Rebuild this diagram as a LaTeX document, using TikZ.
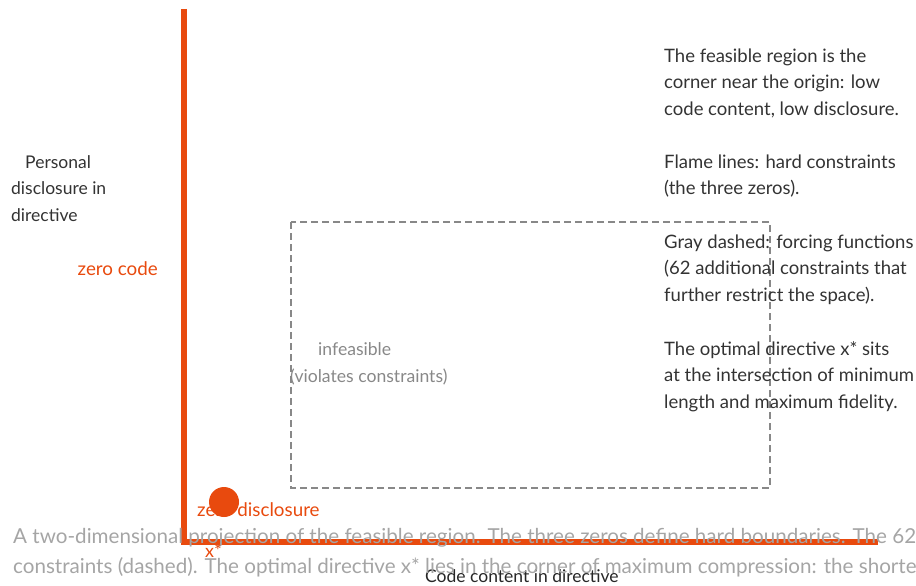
\documentclass[tikz,border=0pt]{standalone}
\usepackage{fontspec}
\setmainfont{Lato}
\usepackage{tikz}
\usetikzlibrary{positioning}
\usepackage{xcolor}
\definecolor{flame}{RGB}{232,74,14}
\definecolor{ink}{RGB}{51,51,51}
\definecolor{dashgray}{RGB}{136,136,136}
\definecolor{capgray}{RGB}{165,165,165}
\tikzset{
  hard/.style={draw=flame, line width=6pt},
  forcing/.style={draw=dashgray, line width=2pt, dash pattern=on 7pt off 4pt},
  note/.style={anchor=base west, inner sep=0pt, align=left, text=ink,
    font=\fontsize{18.5}{26.5}\selectfont},
  flamelbl/.style={inner sep=0pt, text=flame, font=\fontsize{18.8}{20}\selectfont},
  graylbl/.style={anchor=base west, inner sep=0pt, text=dashgray, font=\fontsize{17.6}{20}\selectfont},
  caption/.style={anchor=base west, inner sep=0pt, align=left, text=capgray,
    font=\fontsize{20.6}{30}\selectfont},
}

\begin{document}
\begin{tikzpicture}[x=1pt, y=-1pt]
\useasboundingbox (0,0) rectangle (916,586);
\clip (0,0) rectangle (916,586);
% axes (hard constraints)
\coordinate (ytop) at (184,9);
\coordinate (origin) at (184,542);
\coordinate (xend) at (878,542);
\draw[hard] (ytop) -- ([yshift=-3pt]origin);
\draw[hard] ([xshift=-3pt]origin) -- (xend);
% forcing functions
\coordinate (fa) at (291,222);
\coordinate (fb) at (770,488);
\draw[forcing] (fa) rectangle (fb);
% axis labels (multi-line nodes sit on their last baseline)
\node[note, font=\fontsize{17.5}{26.5}\selectfont] (ylbl) at (11,221) {\hspace{14pt}Personal\\disclosure in\\directive};
\node[anchor=base west, inner sep=0pt, text=black!85, font=\fontsize{17.5}{20}\selectfont] (xlbl) at (425,582) {Code content in directive};
\node[flamelbl, anchor=base east] (zcode) at (158,275) {zero code};
% region labels
\node[graylbl] (infeas) at (318,355) {infeasible};
\node[graylbl] (viol) at (290,382) {(violates constraints)};
% explanation
\node[note] (n1) at (664,115) {The feasible region is the\\corner near the origin: low\\code content, low disclosure.};
\node[note] (n2) at (664,194.5) {Flame lines: hard constraints\\(the three zeros).};
\node[note] (n3) at (664,301) {Gray dashed: forcing functions\\(62 additional constraints that\\further restrict the space).};
\node[note] (n4) at (664,408) {The optimal directive x* sits\\at the intersection of minimum\\length and maximum fidelity.};
% optimum
\node[flamelbl, anchor=base west] (zdisc) at (197,516) {zero disclosure};
\node[circle, fill=flame, minimum size=30pt, inner sep=0pt] (xstar) at (224,502) {};
% caption
\node[caption] (cap) at (13,573) {A two-dimensional projection of the feasible region. The three zeros define hard boundaries. The 62\\constraints (dashed). The optimal directive x* lies in the corner of maximum compression: the shortest};
\node[flamelbl, anchor=base west, font=\fontsize{18}{20}\selectfont] (xlab) at (205,557) {x*};
\end{tikzpicture}
\end{document}
